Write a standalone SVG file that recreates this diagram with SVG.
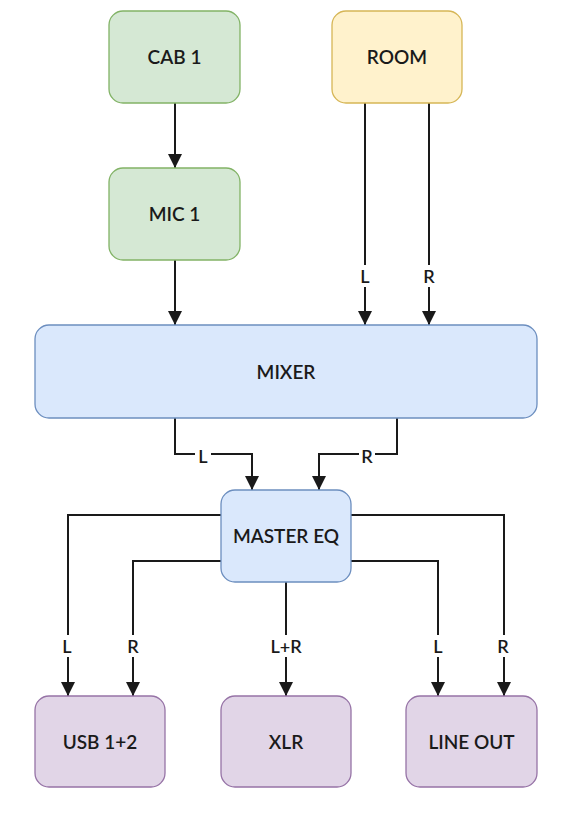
<svg xmlns="http://www.w3.org/2000/svg" width="576" height="823" viewBox="0 0 576 823">
<style>
.n{stroke-width:1.3}
.g{fill:#d5e8d4;stroke:#82b366}
.y{fill:#fff2cc;stroke:#d6b656}
.b{fill:#dae8fc;stroke:#6c8ebf}
.p{fill:#e1d5e7;stroke:#9673a6}
.t{font-family:Lato,"Liberation Sans",sans-serif;font-size:19px;font-weight:600;fill:#1a1a1a;text-anchor:middle;dominant-baseline:central}
.e{fill:none;stroke:#1a1a1a;stroke-width:2}
.lb{fill:#fff}
.l{font-family:Lato,"Liberation Sans",sans-serif;font-size:18px;font-weight:600;fill:#1a1a1a;text-anchor:middle;dominant-baseline:central}
</style>
<defs>
<marker id="d" markerUnits="userSpaceOnUse" markerWidth="14" markerHeight="14" viewBox="0 0 14 14" refX="14" refY="7" orient="auto">
<path d="M0,0 L14,7 L0,14 Z" fill="#1a1a1a"/>
</marker>
</defs>
<rect width="576" height="823" fill="#fff"/>
<g id="edges">
<path class="e" d="M175,103 V168" marker-end="url(#d)"/>
<path class="e" d="M175,260 V325" marker-end="url(#d)"/>
<path class="e" d="M365,103 V325" marker-end="url(#d)"/>
<path class="e" d="M429,103 V325" marker-end="url(#d)"/>
<path class="e" d="M175,418 V454 H252 V490" marker-end="url(#d)"/>
<path class="e" d="M397,418 V454 H319 V490" marker-end="url(#d)"/>
<path class="e" d="M221,515 H68 V696" marker-end="url(#d)"/>
<path class="e" d="M221,561 H133 V696" marker-end="url(#d)"/>
<path class="e" d="M286,582 V696" marker-end="url(#d)"/>
<path class="e" d="M351,561 H438 V696" marker-end="url(#d)"/>
<path class="e" d="M351,515 H504 V696" marker-end="url(#d)"/>
<g id="labels">
<rect class="lb" x="357" y="265" width="16" height="22"/><text class="l" x="365" y="276">L</text>
<rect class="lb" x="421" y="265" width="16" height="22"/><text class="l" x="429" y="276">R</text>
<rect class="lb" x="195" y="445" width="16" height="22"/><text class="l" x="203" y="456">L</text>
<rect class="lb" x="359" y="445" width="16" height="22"/><text class="l" x="367" y="456">R</text>
<rect class="lb" x="59" y="635" width="16" height="22"/><text class="l" x="67" y="646">L</text>
<rect class="lb" x="125" y="635" width="16" height="22"/><text class="l" x="133" y="646">R</text>
<rect class="lb" x="268" y="635" width="36" height="22"/><text class="l" x="286" y="646">L+R</text>
<rect class="lb" x="430" y="635" width="16" height="22"/><text class="l" x="438" y="646">L</text>
<rect class="lb" x="495" y="635" width="16" height="22"/><text class="l" x="503" y="646">R</text>
</g>
</g>
<g id="cab1"><rect class="n g" x="109" y="11" width="131" height="92" rx="14"/><text class="t" x="174.5" y="56">CAB 1</text></g>
<g id="room"><rect class="n y" x="332" y="11" width="130" height="92" rx="14"/><text class="t" x="397" y="56">ROOM</text></g>
<g id="mic1"><rect class="n g" x="109" y="168" width="131" height="92" rx="14"/><text class="t" x="174.5" y="213">MIC 1</text></g>
<g id="mixer"><rect class="n b" x="35" y="325" width="502" height="93" rx="14"/><text class="t" x="286" y="371">MIXER</text></g>
<g id="mastereq"><rect class="n b" x="221" y="490" width="130" height="92" rx="14"/><text class="t" x="286" y="535">MASTER EQ</text></g>
<g id="usb"><rect class="n p" x="35" y="696" width="130" height="91" rx="14"/><text class="t" x="100" y="741">USB 1+2</text></g>
<g id="xlr"><rect class="n p" x="221" y="696" width="130" height="91" rx="14"/><text class="t" x="286" y="741">XLR</text></g>
<g id="lineout"><rect class="n p" x="406" y="696" width="131" height="91" rx="14"/><text class="t" x="471.5" y="741">LINE OUT</text></g>
</svg>
